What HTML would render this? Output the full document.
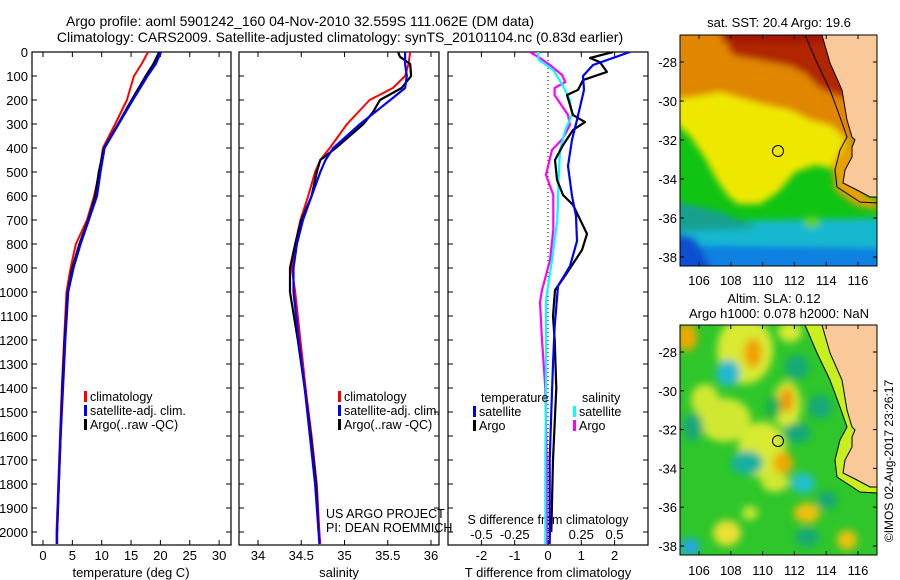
<!DOCTYPE html>
<html><head><meta charset="utf-8"><style>
html,body{margin:0;padding:0;background:#fff;}
svg{display:block;font-family:"Liberation Sans",sans-serif;}
text{fill:#000;}
</style></head><body>
<svg id="fig" width="900" height="580" viewBox="0 0 900 580" xmlns="http://www.w3.org/2000/svg">
<defs>
<filter id="blur4" x="-10%" y="-10%" width="120%" height="120%"><feGaussianBlur stdDeviation="3.5"/></filter>
<filter id="blur6" x="-20%" y="-20%" width="140%" height="140%"><feGaussianBlur stdDeviation="4"/></filter>
<clipPath id="clipTop"><rect x="680" y="35" width="197" height="231"/></clipPath>
<clipPath id="clipBot"><rect x="680" y="325" width="197" height="230"/></clipPath>
<clipPath id="clipP1"><rect x="32" y="52" width="199" height="493"/></clipPath>
<clipPath id="clipP2"><rect x="239" y="52" width="200" height="493"/></clipPath>
<clipPath id="clipP3"><rect x="448" y="52" width="200" height="493"/></clipPath>
</defs>
<g>
<text x="300" y="26" font-size="14" text-anchor="middle">Argo profile: aoml 5901242_160 04-Nov-2010 32.559S 111.062E (DM data)</text>
<text x="340" y="42" font-size="14" text-anchor="middle">Climatology: CARS2009. Satellite-adjusted climatology: synTS_20101104.nc (0.83d earlier)</text>
</g>
<g id="p1"></g>
<g id="p2"></g>
<g id="p3"></g>

<!-- Top map: SST -->
<g>
<text x="779" y="27" font-size="13" text-anchor="middle">sat. SST: 20.4  Argo: 19.6</text>
<g clip-path="url(#clipTop)">
<rect x="680" y="35" width="197" height="231" fill="#10c414"/>
<g filter="url(#blur4)">
<polygon points="670,222 900,218 900,280 670,280" fill="#14b8d0"/>
<polygon points="670,200 720,212 760,228 670,232" fill="#12a090"/>
<polygon points="670,245 900,248 900,280 670,280" fill="#0a80e0"/>
<polygon points="670,232 695,238 712,270 670,280" fill="#0a50d0"/>
<polygon points="670,92 850,92 850,172 815,165 795,172 778,192 760,204 738,204 728,196 717,180 705,158 690,136 670,118" fill="#eee800"/>
<polygon points="670,20 900,20 900,150 848,142 832,126 810,120 790,110 770,106 740,98 720,92 700,96 670,100" fill="#e08600"/>
<polygon points="728,20 900,20 900,110 838,96 820,88 806,74 790,66 760,60 736,56 728,50" fill="#b02800"/>
<polygon points="720,20 900,20 900,45 722,42" fill="#a41400"/>
<polygon points="845,140 860,150 858,175 865,195 877,200 877,210 855,205 835,190 832,165 840,150" fill="#e8a000"/>
<ellipse cx="812" cy="222" rx="8" ry="6" fill="#60d020"/>
</g>
<polygon points="822,35 830,63 842,90 847,120 852,137 855,140 852,147 852,157 845,170 843,183 857,190 870,197 877,197 900,197 900,20 820,20" fill="#f9c99a" stroke="#000" stroke-width="1"/>
<polyline points="805,35 817,63 830,90 840,117 847,137 840,150 835,170 837,187 860,202 877,203" fill="none" stroke="#000" stroke-width="1"/>
<circle cx="778" cy="151" r="5.5" fill="none" stroke="#000" stroke-width="1"/>
</g>
<rect x="680" y="35" width="197" height="231" fill="none" stroke="#000" stroke-width="1"/>
<g id="mapTopAxes"></g>
</g>

<!-- Bottom map: SLA -->
<g>
<text x="774" y="303" font-size="13" text-anchor="middle">Altim. SLA: 0.12</text>
<text x="779" y="318" font-size="13" text-anchor="middle">Argo h1000: 0.078 h2000: NaN</text>
<g clip-path="url(#clipBot)">
<rect x="680" y="325" width="197" height="230" fill="#2ec62a"/>
<g filter="url(#blur6)">
<ellipse cx="745" cy="350" rx="28" ry="34" fill="#d8ea30"/>
<ellipse cx="790" cy="332" rx="12" ry="10" fill="#d8ea30"/>
<ellipse cx="787" cy="405" rx="14" ry="24" fill="#d8ea30"/>
<ellipse cx="725" cy="420" rx="26" ry="22" fill="#d0e830"/>
<ellipse cx="705" cy="400" rx="14" ry="16" fill="#d0e830"/>
<ellipse cx="762" cy="450" rx="24" ry="28" fill="#d8ea30"/>
<ellipse cx="775" cy="482" rx="14" ry="10" fill="#d0e830"/>
<ellipse cx="687" cy="337" rx="10" ry="14" fill="#f0a800"/>
<ellipse cx="753" cy="353" rx="9" ry="15" fill="#f0a000"/>
<ellipse cx="787" cy="400" rx="7" ry="13" fill="#f09800"/>
<ellipse cx="783" cy="463" rx="10" ry="11" fill="#f0a800"/>
<ellipse cx="807" cy="513" rx="13" ry="10" fill="#f0c010"/>
<ellipse cx="727" cy="533" rx="14" ry="13" fill="#e8e030"/>
<ellipse cx="847" cy="540" rx="10" ry="10" fill="#f0c010"/>
<ellipse cx="750" cy="513" rx="8" ry="7" fill="#c8e830"/>
<ellipse cx="728" cy="373" rx="12" ry="13" fill="#20b8d0"/>
<ellipse cx="693" cy="427" rx="10" ry="14" fill="#14a878"/>
<ellipse cx="797" cy="367" rx="12" ry="12" fill="#14a878"/>
<ellipse cx="820" cy="407" rx="12" ry="12" fill="#14a878"/>
<ellipse cx="797" cy="433" rx="14" ry="10" fill="#14a878"/>
<ellipse cx="773" cy="407" rx="8" ry="12" fill="#14b050"/>
<ellipse cx="747" cy="463" rx="16" ry="12" fill="#18b0a0"/>
<ellipse cx="803" cy="483" rx="12" ry="10" fill="#20c0d0"/>
<ellipse cx="690" cy="547" rx="10" ry="9" fill="#20a8e0"/>
<ellipse cx="807" cy="537" rx="12" ry="9" fill="#14a878"/>
<ellipse cx="827" cy="500" rx="10" ry="9" fill="#14a878"/>
</g>
<polygon points="805,325 817,353 830,380 840,407 847,427 840,440 835,460 837,477 860,492 877,493 877,487 857,480 843,473 845,460 852,447 852,437 855,430 852,427 847,410 842,380 830,353 822,325" fill="#c8f020"/>
<polygon points="822,325 830,353 842,380 847,410 852,427 855,430 852,437 852,447 845,460 843,473 857,480 870,487 877,487 900,487 900,310 820,310" fill="#f9c99a" stroke="#000" stroke-width="1"/>
<polyline points="805,325 817,353 830,380 840,407 847,427 840,440 835,460 837,477 860,492 877,493" fill="none" stroke="#000" stroke-width="1"/>
<circle cx="778" cy="441" r="5.5" fill="none" stroke="#000" stroke-width="1"/>
</g>
<rect x="680" y="325" width="197" height="230" fill="none" stroke="#000" stroke-width="1"/>
<g id="mapBotAxes"></g>
</g>

<text x="893" y="461" font-size="12" text-anchor="middle" transform="rotate(-90 893 461)">©IMOS 02-Aug-2017 23:26:17</text>
</svg>
<script>
// ---------- data ----------
var depthT = [0,50,100,200,300,400,500,600,700,800,900,1000,1200,1400,1600,1800,2000,2050];
var tempClim = [17.9,16.8,15.5,14.3,12.3,10.2,9.6,8.7,7.5,5.6,4.7,4.0,3.6,3.2,2.9,2.6,2.3,2.3];
var tempSat  = [20.1,19.2,17.8,15.3,12.9,10.5,9.8,9.2,7.8,6.4,5.2,4.3,3.8,3.4,3.0,2.7,2.4,2.4];
var tempArgo = [19.8,18.8,17.5,15.1,12.8,10.4,9.5,8.9,7.7,6.2,5.0,4.2,3.7,3.3,3.0,2.7,2.4];
var depthArgoT = [0,50,100,200,300,400,500,600,700,800,900,1000,1200,1400,1600,1800,2000];

var depthS = [0,50,100,150,200,300,400,450,500,600,700,800,900,1000,1200,1400,1600,1800,2000,2050];
var salClim = [35.76,35.74,35.70,35.56,35.29,35.03,34.83,34.72,34.66,34.58,34.49,34.43,34.39,34.43,34.49,34.55,34.62,34.68,34.71,34.72];
var salSat  = [35.70,35.70,35.72,35.70,35.53,35.18,34.87,34.78,34.72,34.62,34.52,34.45,34.41,34.41,34.47,34.54,34.60,34.66,34.70,34.71];
var depthSA = [0,20,50,100,150,200,250,300,400,450,500,600,700,800,900,1000,1200,1400,1600,1800,2000];
var salArgo = [35.62,35.64,35.76,35.77,35.66,35.41,35.33,35.22,34.90,34.72,34.68,34.62,34.50,34.43,34.37,34.37,34.46,34.54,34.61,34.67,34.70];

var depthDT = [0,54,100,158,283,366,475,600,683,788,892,975,1142,1300,1500,1700,2000,2050];
var dTsat = [2.46,1.35,1.05,1.08,0.87,0.72,0.6,0.72,0.84,0.87,0.66,0.3,0.2,0.15,0.1,0.05,0.05,0.05];
var depthDA = [0,25,42,83,117,158,179,263,292,325,388,450,533,596,637,758,825,933,992,1100,1200,1400,1700,2000];
var dTargo = [1.95,1.26,1.56,1.77,1.05,0.9,0.57,0.75,1.11,0.75,0.45,0.21,0.27,0.45,0.75,1.17,1.02,0.51,0.21,0.15,0.2,0.25,0.15,0.1];
var depthDS = [0,25,54,96,125,150,179,221,262,304,362,408,512,596,742,867,992,1042,1200,1400,1700,2050];
var dSargo = [-0.135,-0.06,0.015,0.105,0.13,0.05,0.05,0.1,0.15,0.165,0.11,0.03,-0.015,0.04,0.04,0.015,-0.045,-0.06,-0.045,-0.02,-0.01,-0.01];
var depthDC = [0,33,75,138,200,262,325,408,533,700,867,1033,1200,1400,1700,2050];
var dSsat = [-0.075,-0.07,0.04,0.11,0.165,0.18,0.13,0.09,0.08,0.07,0.03,-0.015,-0.015,-0.015,-0.02,-0.02];

var depthTicks = [0,100,200,300,400,500,600,700,800,900,1000,1100,1200,1300,1400,1500,1600,1700,1800,1900,2000];
var tempTicks = [0,5,10,15,20,25,30];
var salTicks = [34,34.5,35,35.5,36];
var dTTicks = [-2,-1,0,1,2];
var dSTicks = [-0.5,-0.25,0,0.25,0.5];
var dSTickLabels = ["-0.5","-0.25","0","0.25","0.5"];
var lonTicks = [106,108,110,112,114,116];
var latTicks = [-28,-30,-32,-34,-36,-38];

// ---------- scales ----------
var NS = 'http://www.w3.org/2000/svg';
function yD(d){ return 52 + d*0.24; }
function xT(t){ return 43 + t*5.87; }
function xS(s){ return 258 + (s-34)*86.5; }
function xDT(v){ return 548 + v*33.3; }
function xDS(v){ return 548 + v*133; }
function xLon(l){ return 699 + (l-106)*15.9; }
function yLatTop(l){ return 62 + (-28-l)*19.5; }
function yLatBot(l){ return 352 + (-28-l)*19.4; }

function mk(tag, attrs, parent){
  var e = document.createElementNS(NS, tag);
  for (var k in attrs) e.setAttribute(k, attrs[k]);
  parent.appendChild(e);
  return e;
}
function txt(x,y,s,anchor,parent,size){
  var t = mk('text',{x:x,y:y,'font-size':size||12,'text-anchor':anchor||'middle'},parent);
  t.textContent = s;
  return t;
}
function line(xs, ds, xf, color, w, parent, clip, name){
  var pts = [];
  for (var i=0;i<xs.length;i++) pts.push(xf(xs[i]).toFixed(1)+','+yD(ds[i]).toFixed(1));
  var p = mk('polyline',{points:pts.join(' '),fill:'none',stroke:color,'stroke-width':w,'clip-path':clip,'stroke-linejoin':'round'},parent);
  
  
  return p;
}
function frame(x0,x1,parent){
  var r = mk('rect',{x:x0,y:52,width:x1-x0,height:493,fill:'none',stroke:'#000','stroke-width':1.2},parent);
  
  
  for (var i=0;i<depthTicks.length;i++){
    var y = yD(depthTicks[i]);
    mk('line',{x1:x0,y1:y,x2:x0+5,y2:y,stroke:'#000'},parent);
    mk('line',{x1:x1,y1:y,x2:x1-5,y2:y,stroke:'#000'},parent);
  }
}
function xticks(vals, labels, xf, parent, ly){
  for (var i=0;i<vals.length;i++){
    var x = xf(vals[i]);
    mk('line',{x1:x,y1:52,x2:x,y2:57,stroke:'#000'},parent);
    mk('line',{x1:x,y1:545,x2:x,y2:540,stroke:'#000'},parent);
    if (labels) txt(x, ly||560, labels[i], 'middle', parent, 13);
  }
}
function legend(x, y, color, label, parent){
  var m = mk('rect',{x:x,y:y-10,width:3,height:11,fill:color},parent);
  
  
  var t = txt(x+6, y, label, 'start', parent, 12.5);
  
  
}

// ---------- panel 1: temperature ----------
var p1 = document.getElementById('p1');
frame(32,231,p1);
for (var i=0;i<depthTicks.length;i++){
  var yl = txt(28, yD(depthTicks[i])+5, String(depthTicks[i]), 'end', p1, 13);
  
  
}
xticks(tempTicks, tempTicks.map(String), xT, p1);
var xl1 = txt(131, 577, 'temperature (deg C)', 'middle', p1, 13);


line(tempClim, depthT, xT, '#f00', 2, p1, 'url(#clipP1)', 'temp-climatology-line');
line(tempArgo, depthArgoT, xT, '#000', 2.2, p1, 'url(#clipP1)', 'temp-argo-line');
line(tempSat, depthT, xT, '#00f', 2.2, p1, 'url(#clipP1)', 'temp-satellite-line');
legend(84, 401, '#f00', 'climatology', p1);
legend(84, 415, '#00f', 'satellite-adj. clim.', p1);
legend(84, 429, '#000', 'Argo(..raw -QC)', p1);

// ---------- panel 2: salinity ----------
var p2 = document.getElementById('p2');
frame(239,439,p2);
xticks(salTicks, salTicks.map(String), xS, p2);
var xl2 = txt(339, 577, 'salinity', 'middle', p2, 13);


line(salClim, depthS, xS, '#f00', 2, p2, 'url(#clipP2)', 'sal-climatology-line');
line(salArgo, depthSA, xS, '#000', 2.2, p2, 'url(#clipP2)', 'sal-argo-line');
line(salSat, depthS, xS, '#00f', 2.2, p2, 'url(#clipP2)', 'sal-satellite-line');
legend(338, 401, '#f00', 'climatology', p2);
legend(338, 415, '#00f', 'satellite-adj. clim.', p2);
legend(338, 429, '#000', 'Argo(..raw -QC)', p2);
txt(326, 518, 'US ARGO PROJECT', 'start', p2, 12.5);
txt(326, 532, 'PI: DEAN ROEMMICH', 'start', p2, 12.5);

// ---------- panel 3: differences ----------
var p3 = document.getElementById('p3');
frame(448,648,p3);
mk('line',{x1:548,y1:52,x2:548,y2:545,stroke:'#000','stroke-dasharray':'1,3'},p3);
xticks(dTTicks, null, xDT, p3);
for (var i=0;i<dTTicks.length;i++) txt(xDT(dTTicks[i]), 560, String(dTTicks[i]), 'middle', p3, 13);
for (var i=0;i<dSTicks.length;i++) txt(xDS(dSTicks[i]), 539, dSTickLabels[i], 'middle', p3, 13);
txt(548, 524, 'S difference from climatology', 'middle', p3, 12.5);
var xl3 = txt(548, 577, 'T difference from climatology', 'middle', p3, 13);


line(dSargo, depthDS, xDS, '#f0f', 2.2, p3, 'url(#clipP3)', 'sdiff-argo-line');
line(dSsat, depthDC, xDS, '#0ff', 2.2, p3, 'url(#clipP3)', 'sdiff-satellite-line');
line(dTargo, depthDA, xDT, '#000', 2.2, p3, 'url(#clipP3)', 'tdiff-argo-line');
line(dTsat, depthDT, xDT, '#00f', 2.2, p3, 'url(#clipP3)', 'tdiff-satellite-line');
txt(481, 402, 'temperature', 'start', p3, 12.5);
txt(582, 402, 'salinity', 'start', p3, 12.5);
legend(473, 416, '#00f', 'satellite', p3);
legend(473, 430, '#000', 'Argo', p3);
legend(573, 416, '#0ff', 'satellite', p3);
legend(573, 430, '#f0f', 'Argo', p3);

// ---------- map axes ----------
function mapAxes(g, y0, y1, yLat, labY){
  for (var i=0;i<lonTicks.length;i++){
    var x = xLon(lonTicks[i]);
    mk('line',{x1:x,y1:y0,x2:x,y2:y0+4,stroke:'#000'},g);
    mk('line',{x1:x,y1:y1,x2:x,y2:y1-4,stroke:'#000'},g);
    txt(x, labY, String(lonTicks[i]), 'middle', g, 13);
  }
  for (var i=0;i<latTicks.length;i++){
    var y = yLat(latTicks[i]);
    mk('line',{x1:680,y1:y,x2:684,y2:y,stroke:'#000'},g);
    mk('line',{x1:877,y1:y,x2:873,y2:y,stroke:'#000'},g);
    txt(677, y+5, String(latTicks[i]), 'end', g, 13);
  }
}
mapAxes(document.getElementById('mapTopAxes'), 35, 266, yLatTop, 285);
mapAxes(document.getElementById('mapBotAxes'), 325, 555, yLatBot, 575);
</script>
</body></html>
